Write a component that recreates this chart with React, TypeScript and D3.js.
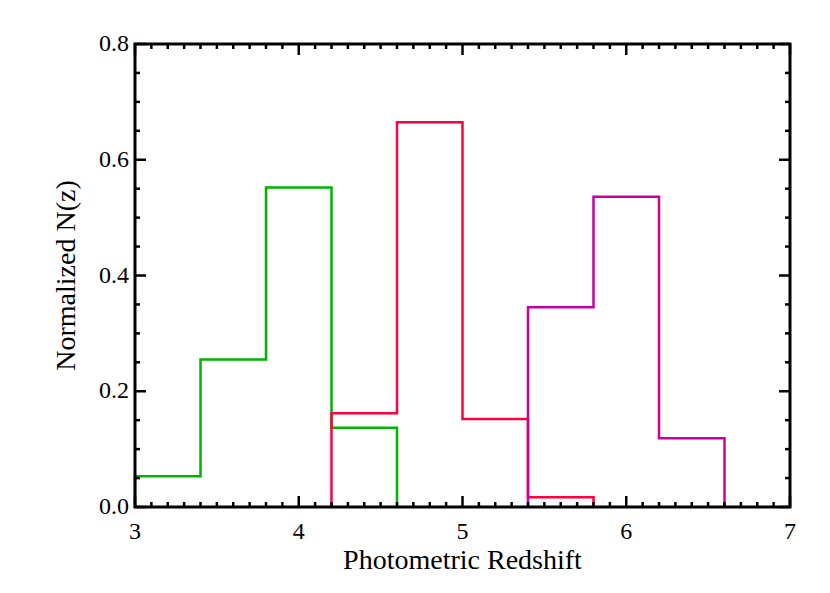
import React, { useEffect, useRef } from 'react';
import * as d3 from 'd3';

// bin edges (left edge of each bin), bin width 0.4
const greenEdges = [3.0, 3.4, 3.8, 4.2];
const greenValues = [0.053, 0.255, 0.552, 0.137];
const redEdges = [4.2, 4.6, 5.0, 5.4];
const redValues = [0.162, 0.665, 0.152, 0.017];
const magentaEdges = [5.4, 5.8, 6.2];
const magentaValues = [0.345, 0.536, 0.119];
const binWidth = 0.4;

const xTicks = [3, 4, 5, 6, 7];
const yTicks = [0.0, 0.2, 0.4, 0.6, 0.8];

const W = 830;
const H = 593;
const margin = { left: 135, right: 40, top: 44, bottom: 86 };

const App = () => {
  const ref = useRef<SVGSVGElement>(null);

  useEffect(() => {
    const svg = d3.select(ref.current);
    svg.selectAll('*').remove();

    const x = d3.scaleLinear().domain([3, 7]).range([margin.left, W - margin.right]);
    const y = d3.scaleLinear().domain([0, 0.8]).range([H - margin.bottom, margin.top]);

    const line = d3.line<[number, number]>()
      .x(d => x(d[0]))
      .y(d => y(d[1]))
      .curve(d3.curveStepAfter);

    const hist = (edges: number[], values: number[], color: string) => {
      const pts: [number, number][] = [[edges[0], 0]];
      edges.forEach((e, i) => pts.push([e, values[i]]));
      pts.push([edges[edges.length - 1] + binWidth, 0]);
      svg.append('path')
        .attr('d', line(pts))
        .attr('fill', 'none')
        .attr('stroke', color)
        .attr('stroke-width', 2.5);
    };

    hist(greenEdges, greenValues, '#00b400');
    hist(redEdges, redValues, '#ff0040');
    hist(magentaEdges, magentaValues, '#c800a0');

    const x0 = x(3), x1 = x(7), y0 = y(0), y1 = y(0.8);
    const ax = svg.append('g').attr('stroke', '#000');

    // minor and major ticks, pointing inward on all four sides
    d3.range(30, 71).forEach(k => {
      const v = k / 10;
      const len = k % 10 === 0 ? 11 : 5;
      ax.append('line').attr('x1', x(v)).attr('x2', x(v)).attr('y1', y0).attr('y2', y0 - len).attr('stroke-width', 2.5);
      ax.append('line').attr('x1', x(v)).attr('x2', x(v)).attr('y1', y1).attr('y2', y1 + len).attr('stroke-width', 2.5);
    });
    d3.range(0, 17).forEach(k => {
      const v = k * 0.05;
      const len = k % 4 === 0 ? 11 : 5;
      ax.append('line').attr('x1', x0).attr('x2', x0 + len).attr('y1', y(v)).attr('y2', y(v)).attr('stroke-width', 2.5);
      ax.append('line').attr('x1', x1).attr('x2', x1 - len).attr('y1', y(v)).attr('y2', y(v)).attr('stroke-width', 2.5);
    });

    ax.append('rect')
      .attr('x', x0).attr('y', y1)
      .attr('width', x1 - x0).attr('height', y0 - y1)
      .attr('fill', 'none')
      .attr('stroke-width', 3);

    const font = '"Liberation Serif", "DejaVu Serif", serif';

    svg.append('g').selectAll('text')
      .data(xTicks)
      .enter().append('text')
      .attr('x', d => x(d))
      .attr('y', y0 + 32)
      .attr('text-anchor', 'middle')
      .attr('font-family', font)
      .attr('font-size', 24)
      .text(d => d.toString());

    svg.append('g').selectAll('text')
      .data(yTicks)
      .enter().append('text')
      .attr('x', x0 - 6)
      .attr('y', d => y(d) + 7)
      .attr('text-anchor', 'end')
      .attr('font-family', font)
      .attr('font-size', 24)
      .text(d => d.toFixed(1));

    svg.append('text')
      .attr('x', (x0 + x1) / 2)
      .attr('y', y0 + 62)
      .attr('text-anchor', 'middle')
      .attr('font-family', font)
      .attr('font-size', 28)
      .text('Photometric Redshift');

    svg.append('text')
      .attr('transform', `translate(75,${(y0 + y1) / 2}) rotate(-90)`)
      .attr('text-anchor', 'middle')
      .attr('font-family', font)
      .attr('font-size', 28)
      .text('Normalized N(z)');
  }, []);

  return (
    <svg ref={ref} width={W} height={H} style={{ display: 'block', position: 'absolute', left: 0, top: 0, background: '#fff' }}></svg>
  );
};

export default App;
